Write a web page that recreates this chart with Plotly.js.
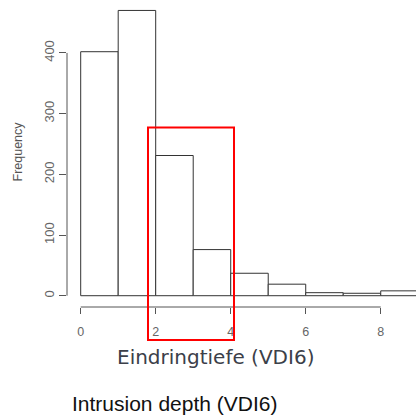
<!DOCTYPE html>
<html>
<head>
<meta charset="utf-8">
<script src="https://cdn.plot.ly/plotly-3.0.1.min.js"></script>
<style>html,body{margin:0;padding:0;background:#fff;}#chart{width:416px;height:416px;}</style>
</head>
<body>
<div id="chart"></div>
<script>
// Histogram bins (left edges, width 1) and counts
const binStarts = [0, 1, 2, 3, 4, 5, 6, 7, 8];
const counts = [402, 470, 231, 76, 37, 19, 5, 4, 8];
const xTicks = [0, 2, 4, 6, 8];
const yTicks = [0, 100, 200, 300, 400];
const xTitle = "Eindringtiefe (VDI6)";
const yTitle = "Frequency";
const caption = "Intrusion depth (VDI6)";

const L = 67, T = 0, W = 416, H = 416, B = 109, R = 0;
const pw = W - L - R, ph = H - T - B;
function px2paperX(p) { return (p - L) / pw; }
function px2paperY(p) { return (H - B - p) / ph; }

const trace = {
  type: 'bar',
  x: binStarts.map(v => v + 0.5),
  y: counts,
  width: binStarts.map(() => 1),
  marker: {color: '#ffffff', line: {color: '#333333', width: 1}},
  hoverinfo: 'skip'
};

const layout = {
  width: W, height: H,
  margin: {l: L, r: R, t: T, b: B, pad: 0},
  paper_bgcolor: '#ffffff', plot_bgcolor: '#ffffff',
  showlegend: false,
  bargap: 0,
  font: {family: 'Liberation Sans, Arial, sans-serif', color: '#555'},
  xaxis: {
    range: [-0.365, 8.94], showgrid: false, zeroline: false, showline: false,
    tickvals: xTicks, ticktext: xTicks.map(String),
    ticks: 'outside', ticklen: 6, tickcolor: '#555', tickwidth: 1,
    tickfont: {size: 12.5, color: '#666'}, ticklabelstandoff: 7
  },
  yaxis: {
    range: [-18.6, 487.2], showgrid: false, zeroline: false, showline: false,
    tickvals: yTicks, ticktext: yTicks.map(String),
    ticks: 'outside', ticklen: 7, tickcolor: '#555', tickwidth: 1,
    tickangle: -90,
    tickfont: {size: 13, color: '#666'}
  },
  shapes: [
    {type: 'line', xref: 'x', yref: 'paper', x0: xTicks[0], x1: xTicks[xTicks.length-1], y0: 0, y1: 0,
     line: {color: '#555', width: 1}},
    {type: 'line', xref: 'paper', yref: 'y', x0: 0, x1: 0, y0: yTicks[0], y1: yTicks[yTicks.length-1],
     line: {color: '#555', width: 1}},
    {type: 'rect', xref: 'paper', yref: 'paper',
     x0: px2paperX(148), x1: px2paperX(234), y0: px2paperY(340), y1: px2paperY(127.5),
     line: {color: '#ff0000', width: 2}, fillcolor: 'rgba(0,0,0,0)'}
  ],
  annotations: [
    {text: xTitle, xref: 'paper', yref: 'paper', x: px2paperX(215.5), y: px2paperY(357),
     xanchor: 'center', yanchor: 'middle', showarrow: false,
     font: {family: 'DejaVu Sans, Verdana, sans-serif', size: 20, color: '#3b4049'}},
    {text: yTitle, xref: 'paper', yref: 'paper', x: px2paperX(17.5), y: px2paperY(152),
     xanchor: 'center', yanchor: 'middle', showarrow: false, textangle: -90,
     font: {family: 'Liberation Sans, Arial, sans-serif', size: 12.5, color: '#555'}},
    {text: caption, xref: 'paper', yref: 'paper', x: px2paperX(70), y: px2paperY(403),
     xanchor: 'left', yanchor: 'middle', showarrow: false,
     font: {family: 'Liberation Sans, Arial, sans-serif', size: 21, color: '#111'}}
  ]
};

Plotly.newPlot('chart', [trace], layout, {displayModeBar: false, staticPlot: true});
</script>
</body>
</html>
